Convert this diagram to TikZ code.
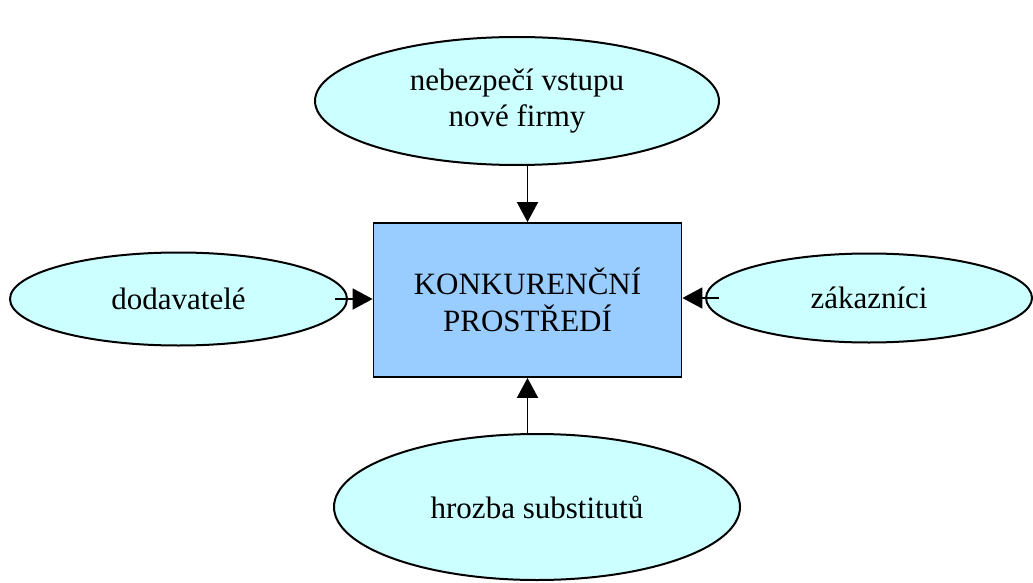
\documentclass[tikz,border=0pt]{standalone}
\usepackage{fontspec}
\setmainfont{Liberation Serif}
\usetikzlibrary{arrows.meta,shapes.geometric}
\definecolor{ovalfill}{HTML}{CCFFFF}
\definecolor{boxfill}{HTML}{99CCFF}

\begin{document}
\begin{tikzpicture}[x=0.5pt,y=-0.5pt,
  force/.style={ellipse, draw=black, fill=ovalfill, line width=1pt, inner sep=0pt,
    align=center, font=\fontsize{15.5}{18}\selectfont},
  push/.style={line width=0.9pt, -{Triangle[length=10pt, width=10.5pt]}}]
\useasboundingbox (0,0) rectangle (1033,583);
\node[draw=black, fill=boxfill, line width=0.9pt, minimum width=154pt, minimum height=77pt,
  align=center, font=\fontsize{15.5}{18.5}\selectfont] (env) at (527.5,300) {KONKURENČNÍ\\PROSTŘEDÍ};
\node[force, minimum width=202pt, minimum height=64pt] (entry) at (517,101) {nebezpečí vstupu\\nové firmy};
\node[force, minimum width=168.5pt, minimum height=46.5pt] (supp) at (178.5,299) {dodavatelé};
\node[force, minimum width=163pt, minimum height=44.5pt] (cust) at (869,298) {zákazníci};
\node[force, minimum width=203pt, minimum height=73pt] (subst) at (537,507) {hrozba substitutů};
\draw[push] (entry.south -| env.north) -- (env.north);
\draw[push] ([xshift=-6.5pt]supp.east) -- (supp.east -| env.west);
\draw[push] ([xshift=7pt]cust.west) -- (cust.west -| env.east);
\draw[push] (subst.north -| env.south) -- (env.south);
\end{tikzpicture}
\end{document}
